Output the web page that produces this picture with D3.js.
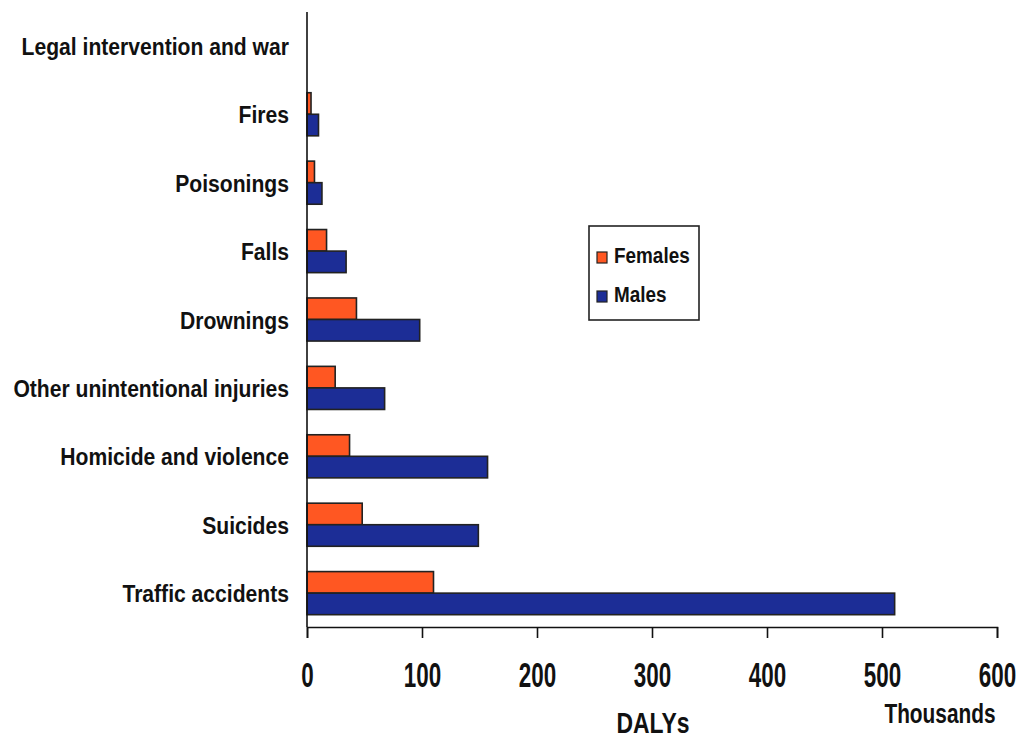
<!DOCTYPE html>
<html><head><meta charset="utf-8">
<script src="https://cdn.jsdelivr.net/npm/d3@7"></script>
<style>body{margin:0;background:#fff}svg{display:block}text{font-family:"Liberation Sans",Arial,sans-serif;font-weight:bold;fill:#111}</style>
</head><body>
<svg id="c" width="1022" height="740"></svg>
<script>
const categories = ["Legal intervention and war","Fires","Poisonings","Falls","Drownings","Other unintentional injuries","Homicide and violence","Suicides","Traffic accidents"];
const females = [0, 3.5, 6.5, 17, 43, 24.5, 37, 48, 110];
const males   = [0, 10, 13, 34, 98, 67.5, 157, 149, 511];
const seriesNames = ["Females","Males"];
const xTicks = [0,100,200,300,400,500,600];
const colors = {Females:"#FF5722", Males:"#1C2D96"};

const svg = d3.select("#c");
const x = d3.scaleLinear().domain([0,600]).range([307,997]);
const y = d3.scaleBand().domain(categories).range([12,627]).paddingInner(0.37).paddingOuter(0.18);
const sub = d3.scaleBand().domain(seriesNames).range([0,y.bandwidth()]);

const data = categories.map((c,i)=>({cat:c, Females:females[i], Males:males[i]}));

function ctext(parent, tx, ty, sx, size, anchor, str){
  const gg = parent.append("g").attr("transform",`translate(${tx},${ty}) scale(${sx},1)`);
  return gg.append("text").attr("x",0).attr("y",0).attr("text-anchor",anchor).style("font-size",size+"px").text(str);
}

const g = svg.append("g");
data.forEach(d=>{
  seriesNames.forEach(s=>{
    if (d[s] <= 0) return;
    g.append("rect")
      .attr("x", x(0)).attr("y", y(d.cat)+sub(s))
      .attr("width", x(d[s])-x(0)).attr("height", sub.bandwidth())
      .attr("fill", colors[s]).attr("stroke","#222").attr("stroke-width",1.6);
  });
});

// y axis line
svg.append("line").attr("x1",x(0)).attr("x2",x(0)).attr("y1",12).attr("y2",627).attr("stroke","#111").attr("stroke-width",1.6);
// category labels
categories.forEach(c=>{
  ctext(svg, 289, y(c)+y.bandwidth()/2+9, 0.88, 24, "end", c);
});

// x axis
const xAxis = d3.axisBottom(x).tickValues(xTicks).tickSize(11).tickFormat(d3.format("d"));
const ax = svg.append("g").attr("transform","translate(0,627)").call(xAxis);
ax.select(".domain").attr("stroke","#111").attr("stroke-width",1.6);
ax.selectAll(".tick line").attr("stroke","#111").attr("stroke-width",1.6);
ax.selectAll(".tick text")
  .attr("y",60).attr("dy",null)
  .attr("transform","scale(0.64,1)")
  .style("font-size","35px").style("font-family",'"Liberation Sans",Arial,sans-serif').style("font-weight","bold").attr("fill","#111");

ctext(svg, 653, 733, 0.79, 29, "middle", "DALYs");
ctext(svg, 940, 723, 0.745, 28, "middle", "Thousands");

// legend
const lg = svg.append("g");
lg.append("rect").attr("x",589).attr("y",226).attr("width",110).attr("height",94).attr("fill","#fff").attr("stroke","#222").attr("stroke-width",1.6);
seriesNames.forEach((s,i)=>{
  const yy = 257 + i*39;
  lg.append("rect").attr("x",597).attr("y",yy-5).attr("width",10).attr("height",11).attr("fill",colors[s]).attr("stroke","#222").attr("stroke-width",1.2);
  ctext(lg, 614, yy+6, 0.86, 22, "start", s);
});
</script>
</body></html>
